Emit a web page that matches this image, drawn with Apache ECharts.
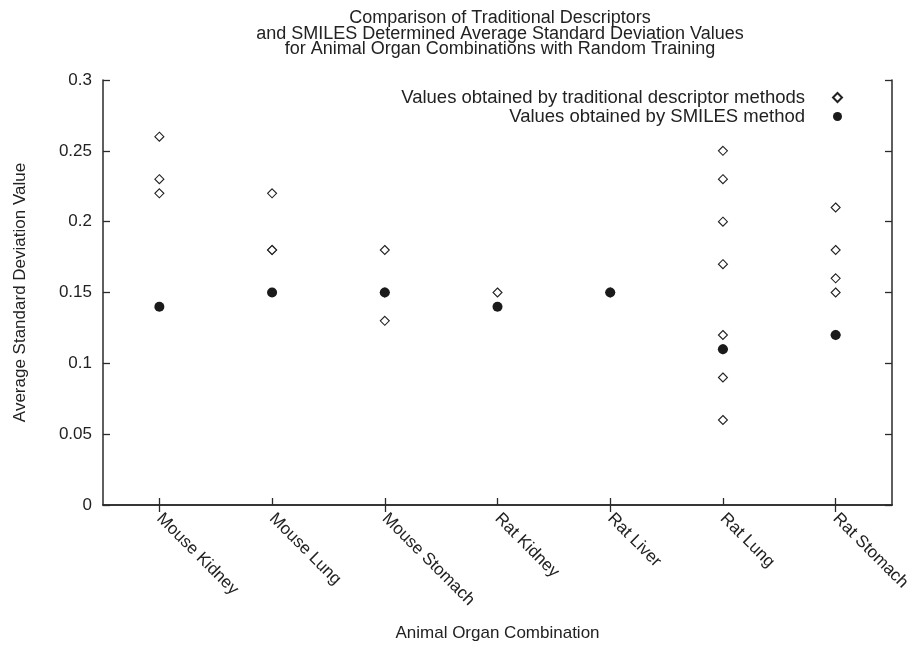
<!DOCTYPE html>
<html>
<head>
<meta charset="utf-8">
<script src="https://cdn.jsdelivr.net/npm/echarts@6/dist/echarts.min.js"></script>
<style>
html,body{margin:0;padding:0;background:#fff;}
#chart{width:914px;height:645px;}
</style>
</head>
<body>
<div id="chart"></div>
<script>
const categories = ["Mouse Kidney", "Mouse Lung", "Mouse Stomach", "Rat Kidney", "Rat Liver", "Rat Lung", "Rat Stomach"];
const traditionalValues = [
  [0.26, 0.23, 0.22],
  [0.22, 0.18, 0.18],
  [0.18, 0.15, 0.13],
  [0.15],
  [0.15],
  [0.25, 0.23, 0.20, 0.17, 0.12, 0.11, 0.09, 0.06],
  [0.21, 0.18, 0.16, 0.15, 0.12]
];
const smilesValues = [0.14, 0.15, 0.15, 0.14, 0.15, 0.11, 0.12];
const yTicks = [0, 0.05, 0.1, 0.15, 0.2, 0.25, 0.3];

const tradData = [];
traditionalValues.forEach((arr, i) => arr.forEach(v => tradData.push([i, v])));
const smilesData = smilesValues.map((v, i) => [i, v]);

const FONT = "Liberation Sans, Arial, Helvetica, sans-serif";
const AX = '#2a2a2a';

const chart = echarts.init(document.getElementById('chart'), null, {renderer: 'canvas'});
chart.setOption({
  backgroundColor: '#fff',
  animation: false,
  textStyle: {fontFamily: FONT},
  title: {
    text: 'Comparison of Traditional Descriptors\nand SMILES Determined Average Standard Deviation Values\nfor Animal Organ Combinations with Random Training',
    left: 495, top: 5, textAlign: 'center',
    textStyle: {fontSize: 18, fontWeight: 'normal', color: '#222', lineHeight: 15.7, fontFamily: FONT}
  },
  legend: {
    orient: 'vertical', right: 66, top: 83, align: 'right',
    itemWidth: 9, itemHeight: 9, itemGap: 0,
    textStyle: {fontSize: 18.5, color: '#222', fontFamily: FONT, padding: [0, 23, 0, 0]},
    data: ['Values obtained by traditional descriptor methods', 'Values obtained by SMILES method']
  },
  grid: {left: 103, right: 22, top: 80, bottom: 140, containLabel: false, outerBoundsMode: 'none'},
  xAxis: [{
    type: 'category', data: categories, position: 'bottom', boundaryGap: true,
    name: 'Animal Organ Combination', nameLocation: 'middle', nameGap: 120,
    nameTextStyle: {fontSize: 17, color: '#222', fontFamily: FONT},
    axisLine: {show: true, lineStyle: {color: AX, width: 1.5}},
    axisTick: {show: true, alignWithLabel: true, inside: true, length: 7, lineStyle: {color: AX, width: 1.3}},
    axisLabel: {rotate: -45, fontSize: 17, color: '#222', margin: 11, fontFamily: FONT, interval: 0},
    splitLine: {show: false}
  }, {
    type: 'category', data: categories, position: 'top', boundaryGap: true,
    axisLine: {show: true, lineStyle: {color: AX, width: 1.5}},
    axisTick: {show: true, alignWithLabel: true, inside: true, length: 7, lineStyle: {color: AX, width: 1.3}},
    axisLabel: {show: false},
    splitLine: {show: false}
  }],
  yAxis: [{
    type: 'value', min: 0, max: 0.3, interval: 0.05, position: 'left',
    name: 'Average Standard Deviation Value', nameLocation: 'middle', nameGap: 74, nameRotate: 90,
    nameTextStyle: {fontSize: 17, color: '#222', fontFamily: FONT},
    axisLine: {show: true, lineStyle: {color: AX, width: 1.5}},
    axisTick: {show: true, inside: true, length: 7, lineStyle: {color: AX, width: 1.3}},
    axisLabel: {fontSize: 17, color: '#222', margin: 11, fontFamily: FONT,
      formatter: v => { const t = yTicks.find(x => Math.abs(x - v) < 1e-9); return String(t !== undefined ? t : +v.toFixed(2)); }},
    splitLine: {show: false}
  }, {
    type: 'value', min: 0, max: 0.3, interval: 0.05, position: 'right',
    axisLine: {show: true, lineStyle: {color: AX, width: 1.5}},
    axisTick: {show: true, inside: true, length: 7, lineStyle: {color: AX, width: 1.3}},
    axisLabel: {show: false},
    splitLine: {show: false}
  }],
  series: [{
    name: 'Values obtained by traditional descriptor methods',
    type: 'scatter', xAxisIndex: 0, yAxisIndex: 0,
    symbol: 'diamond', symbolSize: 9, symbolKeepAspect: true,
    itemStyle: {color: '#fff', borderColor: '#222', borderWidth: 1.1, opacity: 1},
    data: tradData, z: 2
  }, {
    name: 'Values obtained by SMILES method',
    type: 'scatter', xAxisIndex: 0, yAxisIndex: 0,
    symbol: 'circle', symbolSize: 10,
    itemStyle: {color: '#1a1a1a', opacity: 1},
    data: smilesData, z: 3
  }]
});
</script>
</body>
</html>
